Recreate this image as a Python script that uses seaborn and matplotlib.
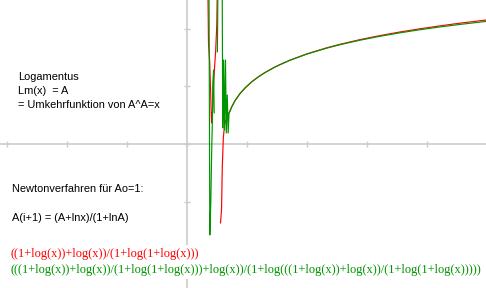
import matplotlib
matplotlib.use("Agg")
import matplotlib.pyplot as plt
import pandas as pd
import seaborn as sns

# ---- data (x, A) ----
red_spike_x = [0.355, 0.365, 0.385, 0.402, 0.415, 0.433, 0.453, 0.485, 0.503, 0.512]
red_spike_y = [2.7, 1.753, 1.424, 0.851, 0.365, 0.590, 1.111, 1.632, 2.066, 2.7]
red_curve_x = [0.565, 0.582, 0.595, 0.612, 0.632, 0.657, 0.698, 0.723, 0.752, 0.807,
               0.890, 0.973, 1.085, 1.195, 1.307, 1.473, 1.723, 2.002, 2.335, 2.557,
               2.890, 3.223, 3.557, 3.890, 4.223, 4.557, 4.990]
red_curve_y = [-1.372, -1.146, -0.399, 0.104, 0.330, 0.417, 0.521, 0.575, 0.647, 0.753,
               0.876, 0.972, 1.079, 1.165, 1.241, 1.337, 1.456, 1.564, 1.670, 1.731,
               1.812, 1.882, 1.945, 2.000, 2.051, 2.098, 2.152]

green_spike1_x = [0.373, 0.387, 0.403, 0.420, 0.430, 0.437, 0.450, 0.460]
green_spike1_y = [2.7, -1.580, -1.024, -0.017, 0.417, 1.059, 1.285, 0.538]
green_spike2_x = [0.513, 0.522]
green_spike2_y = [1.597, 2.7]
green_curve_x = [0.593, 0.603, 0.617, 0.633, 0.648, 0.662, 0.678, 0.693, 0.707, 0.752,
                 0.807, 0.890, 0.973, 1.085, 1.195, 1.307, 1.473, 1.612, 1.723, 2.002,
                 2.335, 2.557, 2.890, 3.223, 3.557, 3.890, 4.223, 4.557, 4.990]
green_curve_y = [2.7, 0.278, 1.458, 0.243, 1.458, 0.191, 0.851, 0.191, 0.530, 0.641,
                 0.752, 0.875, 0.972, 1.079, 1.165, 1.241, 1.336, 1.405, 1.453, 1.560,
                 1.664, 1.724, 1.802, 1.870, 1.930, 1.984, 2.032, 2.076, 2.128]

x_ticks = [-3, -2, -1, 0, 1, 2, 3, 4]
y_ticks = [-2, -1, 0, 1, 2]

info_lines = ["Logamentus", "Lm(x)  = A", "= Umkehrfunktion von A^A=x"]
newton_lines = ["Newtonverfahren für Ao=1:", "A(i+1) = (A+lnx)/(1+lnA)"]
red_formula = "((1+log(x))+log(x))/(1+log(1+log(x)))"
green_formula = ("(((1+log(x))+log(x))/(1+log(1+log(x)))+log(x))/"
                 "(1+log(((1+log(x))+log(x))/(1+log(1+log(x)))))")

RED = "#ff0000"
GREEN = "#009400"
GRAY = "#cccccc"


def pieces(parts):
    rows = []
    for pid, (xs, ys) in enumerate(parts):
        for a, b in zip(xs, ys):
            rows.append({"x": a, "y": b, "piece": pid})
    return pd.DataFrame(rows)


df_red = pieces([(red_spike_x, red_spike_y), (red_curve_x, red_curve_y)])
df_green = pieces([(green_spike1_x, green_spike1_y),
                   (green_spike2_x, green_spike2_y),
                   (green_curve_x, green_curve_y)])

sns.set_style("white")
W, H = 486, 288
fig = plt.figure(figsize=(W / 100, H / 100), dpi=100)
ax = fig.add_axes([0, 0, 1, 1])

sns.lineplot(data=df_red, x="x", y="y", units="piece", estimator=None, sort=False,
             color=RED, lw=0.85, ax=ax)
sns.lineplot(data=df_green, x="x", y="y", units="piece", estimator=None, sort=False,
             color=GREEN, lw=0.85, ax=ax)
for ln in ax.lines:
    ln.set_zorder(3)

ax.set_xlim(-3.11, 4.99)
ax.set_ylim(-2.5, 2.5)
ax.set_xlabel("")
ax.set_ylabel("")
for s in ("top", "right"):
    ax.spines[s].set_visible(False)
for s in ("left", "bottom"):
    ax.spines[s].set_position(("data", 0))
    ax.spines[s].set_color(GRAY)
    ax.spines[s].set_linewidth(1.2)
ax.set_xticks(x_ticks)
ax.set_yticks(y_ticks)
ax.tick_params(bottom=True, left=True, direction="inout", length=4.5, width=1.0,
               color=GRAY, labelbottom=False, labelleft=False)
ax.set_facecolor("white")

sans = ["Liberation Sans", "DejaVu Sans"]
serif = ["Liberation Serif", "DejaVu Serif"]


def ptext(px, py, s, **kw):
    fig.text(px / W, 1 - py / H, s, ha="left", va="baseline", zorder=5, **kw)


for i, s in enumerate(info_lines):
    ptext(18.0, 79.8 + 14 * i, s, family=sans, fontsize=7.9, color="black")
ptext(12.0, 192.3, newton_lines[0], family=sans, fontsize=7.9, color="black")
ptext(12.0, 221.0, newton_lines[1], family=sans, fontsize=7.9, color="black")

box = dict(boxstyle="square,pad=0.25", fc="white", ec="none")
ptext(10.5, 257.5, red_formula, family=serif, fontsize=8.9, color=RED, bbox=box)
ptext(10.5, 272.8, green_formula, family=serif, fontsize=8.9, color=GREEN, bbox=box)

fig.savefig("out.png", dpi=100, facecolor="white")
